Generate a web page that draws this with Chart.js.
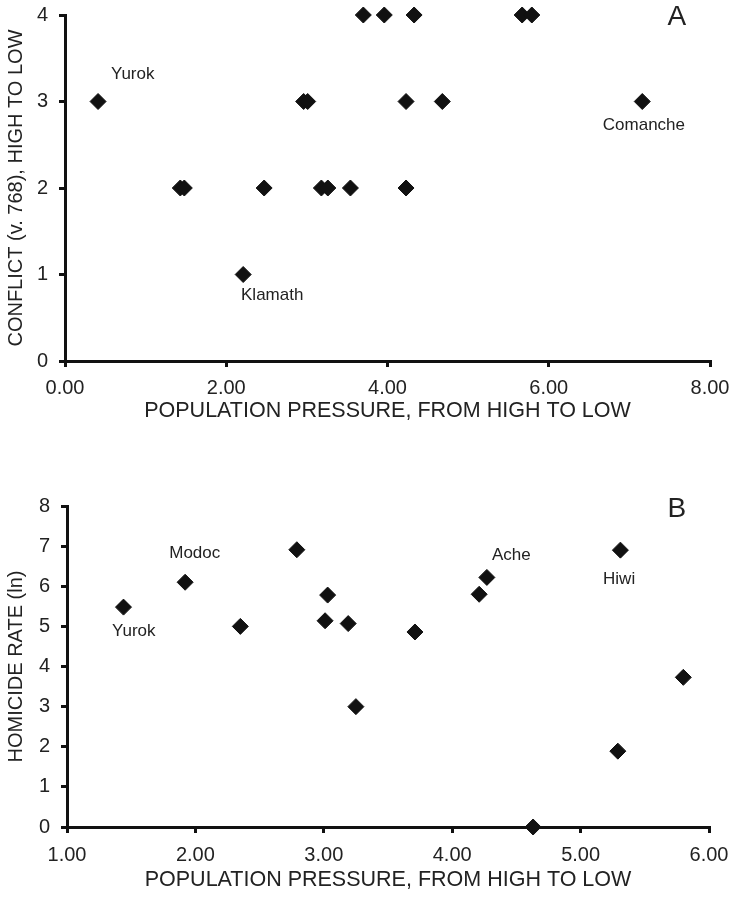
<!DOCTYPE html>
<html>
<head>
<meta charset="utf-8">
<script src="https://cdn.jsdelivr.net/npm/chart.js@4.4.1/dist/chart.umd.min.js"></script>
<style>
  body { margin: 0; background: #fff; }
  #wrapA { position: absolute; left: 0; top: 0; width: 732px; height: 428px; }
  #wrapB { position: absolute; left: 0; top: 440px; width: 732px; height: 457px; }
</style>
</head>
<body>
<div id="wrapA"><canvas id="chartA"></canvas></div>
<div id="wrapB"><canvas id="chartB"></canvas></div>
<script>
// Panel A: population pressure vs conflict
const pressureA = [0.41, 1.43, 1.48, 2.21, 2.47, 2.96, 3.01, 3.18, 3.26, 3.54, 3.70, 3.96, 4.33, 5.67, 5.79, 4.23, 4.68, 7.16, 4.23];
const conflictA = [3, 2, 2, 1, 2, 3, 3, 2, 2, 2, 4, 4, 4, 4, 4, 3, 3, 3, 2];
const xTicksA = [0, 2, 4, 6, 8];
const yTicksA = [0, 1, 2, 3, 4];
const namesA = ['Yurok', 'Klamath', 'Comanche'];
const nameXA = [0.84, 2.57, 7.18];
const nameYA = [3.31, 0.76, 2.72];

// Panel B: population pressure vs homicide rate
const pressureB = [1.44, 1.92, 2.35, 2.79, 3.01, 3.03, 3.19, 3.25, 3.71, 4.21, 4.27, 4.63, 5.31, 5.29, 5.80];
const homicideB = [5.48, 6.10, 5.00, 6.91, 5.14, 5.78, 5.07, 3.00, 4.86, 5.80, 6.22, 0.00, 6.90, 1.89, 3.73];
const xTicksB = [1, 2, 3, 4, 5, 6];
const yTicksB = [0, 1, 2, 3, 4, 5, 6, 7, 8];
const namesB = ['Yurok', 'Modoc', 'Ache', 'Hiwi'];
const nameXB = [1.52, 1.995, 4.46, 5.30];
const nameYB = [4.87, 6.83, 6.76, 6.18];

const FONT = "'Liberation Sans', Arial, sans-serif";

// etiquetas de texto sobre los puntos
const labelPlugin = {
    id: 'nombres',
    afterDatasetsDraw(chart, args, opts) {
        const c = chart.ctx;
        const xs = chart.scales.x, ys = chart.scales.y;
        c.save();
        c.fillStyle = '#222';
        c.textAlign = 'center';
        c.textBaseline = 'middle';
        c.font = '17px ' + FONT;
        opts.names.forEach((n, i) => {
            c.fillText(n, xs.getPixelForValue(opts.xs[i]), ys.getPixelForValue(opts.ys[i]));
        });
        c.font = '28px ' + FONT;
        c.fillText(opts.panel, xs.getPixelForValue(opts.panelX), ys.getPixelForValue(opts.panelY));
        c.restore();
    }
};

function makeChart(id, xs, ys, xTicks, yTicks, yTitle, geo, names) {
    const points = xs.map((x, i) => ({ x: x, y: ys[i] }));
    return new Chart(document.getElementById(id), {
        type: 'scatter',
        data: {
            datasets: [{
                data: points,
                pointStyle: 'rectRot',
                pointRadius: 8,
                pointHoverRadius: 8,
                backgroundColor: '#111',
                borderColor: '#111',
                borderWidth: 1,
                clip: false
            }]
        },
        options: {
            responsive: true,
            maintainAspectRatio: false,
            animation: false,
            layout: { padding: { top: geo.top, right: geo.right, left: 0, bottom: 0 } },
            plugins: {
                legend: { display: false },
                tooltip: { enabled: false },
                nombres: names
            },
            scales: {
                x: {
                    type: 'linear',
                    min: xTicks[0],
                    max: xTicks[xTicks.length - 1],
                    afterBuildTicks: s => { s.ticks = xTicks.map(v => ({ value: v })); },
                    afterFit: s => { s.height = geo.xh; s.paddingLeft = 0; s.paddingRight = 0; },
                    border: { display: true, color: '#111', width: 3 },
                    grid: { drawOnChartArea: false, drawTicks: true, tickLength: 6, lineWidth: 3, color: '#111' },
                    ticks: {
                        color: '#222',
                        padding: geo.xpad,
                        font: { family: FONT, size: 20 },
                        callback: v => Number(v).toFixed(2)
                    },
                    title: {
                        display: true,
                        text: 'POPULATION PRESSURE, FROM HIGH TO LOW',
                        color: '#222',
                        font: { family: FONT, size: 21.5 }
                    }
                },
                y: {
                    type: 'linear',
                    min: yTicks[0],
                    max: yTicks[yTicks.length - 1],
                    afterBuildTicks: s => { s.ticks = yTicks.map(v => ({ value: v })); },
                    afterFit: s => { s.width = geo.yw; s.paddingTop = 0; s.paddingBottom = 0; },
                    border: { display: true, color: '#111', width: 3 },
                    grid: { drawOnChartArea: false, drawTicks: true, tickLength: 6, lineWidth: 3, color: '#111' },
                    ticks: {
                        color: '#222',
                        padding: 11,
                        font: { family: FONT, size: 20 }
                    },
                    title: {
                        display: true,
                        text: yTitle,
                        color: '#222',
                        font: { family: FONT, size: 20 }
                    }
                }
            }
        },
        plugins: [labelPlugin]
    });
}

makeChart('chartA', pressureA, conflictA, xTicksA, yTicksA, 'CONFLICT (v. 768), HIGH TO LOW',
    { top: 15, right: 22, yw: 65, xh: 67, xpad: 9 },
    { names: namesA, xs: nameXA, ys: nameYA, panel: 'A', panelX: 7.59, panelY: 3.97 });

makeChart('chartB', pressureB, homicideB, xTicksB, yTicksB, 'HOMICIDE RATE (ln)',
    { top: 66, right: 23, yw: 67, xh: 70, xpad: 10 },
    { names: namesB, xs: nameXB, ys: nameYB, panel: 'B', panelX: 5.75, panelY: 7.91 });
</script>
</body>
</html>
